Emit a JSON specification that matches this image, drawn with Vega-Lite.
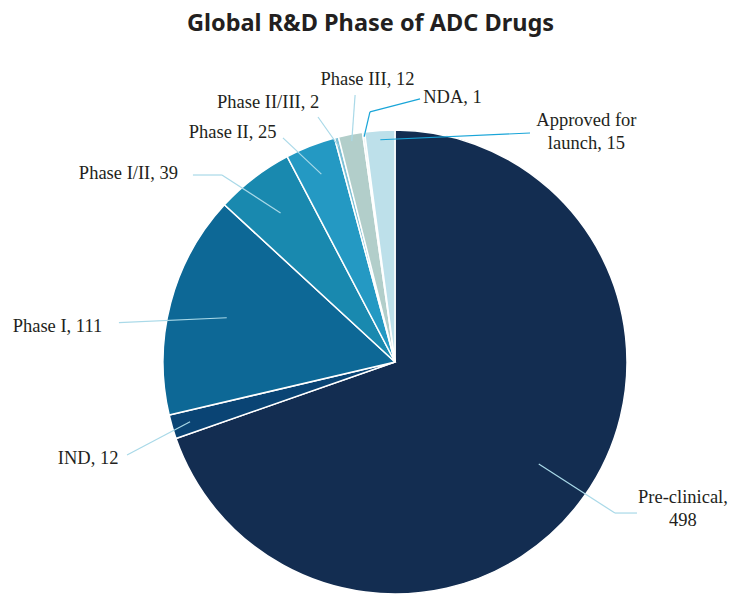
{
  "$schema": "https://vega.github.io/schema/vega-lite/v6.json",
  "width": 731,
  "height": 550,
  "autosize": {"type": "none"},
  "padding": {"left": 0, "right": 0, "top": 44, "bottom": 0},
  "background": "white",
  "config": {"view": {"stroke": null}},
  "title": {
    "text": "Global R&D Phase of ADC Drugs",
    "anchor": "middle",
    "frame": "group",
    "font": "Noto Sans",
    "fontSize": 23.5,
    "fontWeight": "bold",
    "color": "#231f20",
    "offset": 9,
    "dx": 5
  },
  "data": {
    "values": [
      {"phase": "Pre-clinical", "count": 498},
      {"phase": "IND", "count": 12},
      {"phase": "Phase I", "count": 111},
      {"phase": "Phase I/II", "count": 39},
      {"phase": "Phase II", "count": 25},
      {"phase": "Phase II/III", "count": 2},
      {"phase": "Phase III", "count": 12},
      {"phase": "NDA", "count": 1},
      {"phase": "Approved for launch", "count": 15}
    ]
  },
  "transform": [
    {"window": [{"op": "row_number", "as": "rank"}]},
    {"joinaggregate": [{"op": "sum", "field": "count", "as": "total"}]},
    {"window": [{"op": "sum", "field": "count", "as": "cum"}], "sort": [{"field": "rank", "order": "ascending"}], "frame": [null, 0]},
    {"calculate": "(datum.cum - datum.count / 2) / datum.total * 2 * PI", "as": "mid"},
    {"calculate": "datum.rank - 1", "as": "i"},
    {"calculate": "[0.76,0.92,0.75,0.81,0.87,0.96,0.97,0.98,0.96][datum.i] * sin(datum.mid)", "as": "sx"},
    {"calculate": "[0.76,0.92,0.75,0.81,0.87,0.96,0.97,0.98,0.96][datum.i] * cos(datum.mid)", "as": "sy"},
    {"calculate": "[0.948,-1.155,-1.190,-0.746,-0.483,-0.332,-0.172,-0.108,0.582][datum.i]", "as": "ex"},
    {"calculate": "[-0.651,-0.401,0.17,0.806,0.966,1.056,1.151,1.078,0.987][datum.i]", "as": "ey"},
    {"calculate": "[1.043,-1.155,-1.190,-0.871,-0.483,-0.332,-0.172,0.108,0.582][datum.i]", "as": "hx"},
    {"calculate": "[-0.651,-0.401,0.17,0.806,0.966,1.056,1.151,1.134,0.987][datum.i]", "as": "hy"},
    {"calculate": "[1.241,-1.323,-1.455,-1.149,-0.700,-0.547,-0.119,0.248,0.825][datum.i]", "as": "tx"},
    {"calculate": "[-0.608,-0.440,0.129,0.789,0.966,1.095,1.194,1.116,1.017][datum.i]", "as": "ty"},
    {"calculate": "datum.phase === 'Approved for launch' ? 'Approved for\\nlaunch, ' + datum.count : datum.phase === 'Pre-clinical' ? 'Pre-clinical,\\n' + datum.count : datum.phase + ', ' + datum.count", "as": "label"}
  ],
  "layer": [
    {
      "mark": {"type": "arc", "outerRadius": 232, "stroke": "white", "strokeWidth": 1.5},
      "encoding": {
        "x": {"datum": 0, "type": "quantitative", "scale": {"domain": [-1.70259, 1.44828], "nice": false, "zero": false}, "axis": null},
        "y": {"datum": 0, "type": "quantitative", "scale": {"domain": [-1, 1.37069], "nice": false, "zero": false}, "axis": null},
        "theta": {"field": "count", "type": "quantitative", "stack": true},
        "order": {"field": "rank", "type": "quantitative"},
        "color": {
          "field": "phase",
          "type": "nominal",
          "legend": null,
          "scale": {
            "domain": ["Pre-clinical", "IND", "Phase I", "Phase I/II", "Phase II", "Phase II/III", "Phase III", "NDA", "Approved for launch"],
            "range": ["#132d51", "#0a4474", "#0d6896", "#1989af", "#2499c3", "#7ec0d6", "#b2ceca", "#dcecec", "#bde0ea"]
          }
        }
      }
    },
    {
      "mark": {"type": "rule", "strokeWidth": 1.2},
      "encoding": {
        "x": {"field": "sx", "type": "quantitative", "scale": {"domain": [-1.70259, 1.44828], "nice": false, "zero": false}, "axis": null},
        "y": {"field": "sy", "type": "quantitative", "scale": {"domain": [-1, 1.37069], "nice": false, "zero": false}, "axis": null},
        "x2": {"field": "ex"},
        "y2": {"field": "ey"},
        "color": {"condition": {"test": "datum.phase === 'NDA' || datum.phase === 'Approved for launch'", "value": "#19a5d8"}, "value": "#a9d9e8"}
      }
    },
    {
      "mark": {"type": "rule", "strokeWidth": 1.2},
      "encoding": {
        "x": {"field": "ex", "type": "quantitative", "scale": {"domain": [-1.70259, 1.44828], "nice": false, "zero": false}, "axis": null},
        "y": {"field": "ey", "type": "quantitative", "scale": {"domain": [-1, 1.37069], "nice": false, "zero": false}, "axis": null},
        "x2": {"field": "hx"},
        "y2": {"field": "hy"},
        "color": {"condition": {"test": "datum.phase === 'NDA' || datum.phase === 'Approved for launch'", "value": "#19a5d8"}, "value": "#a9d9e8"}
      }
    },
    {
      "mark": {"type": "text", "font": "Liberation Serif", "fontSize": 18.5, "color": "#231f20", "align": "center", "baseline": "alphabetic", "lineBreak": "\n", "lineHeight": 23},
      "encoding": {
        "x": {"field": "tx", "type": "quantitative", "scale": {"domain": [-1.70259, 1.44828], "nice": false, "zero": false}, "axis": null},
        "y": {"field": "ty", "type": "quantitative", "scale": {"domain": [-1, 1.37069], "nice": false, "zero": false}, "axis": null},
        "text": {"field": "label"}
      }
    }
  ]
}
